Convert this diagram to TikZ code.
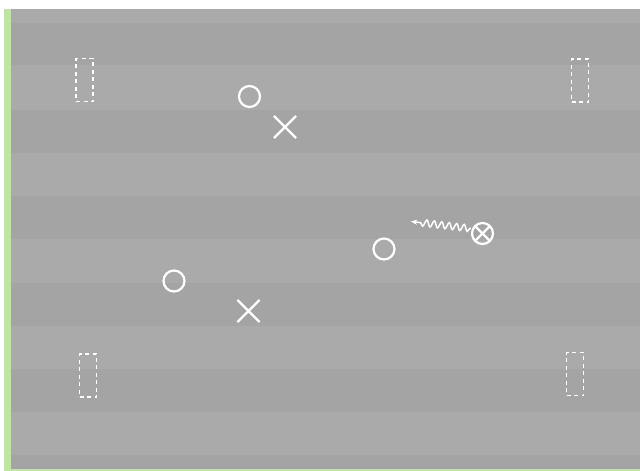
\documentclass[tikz,border=0pt]{standalone}
\usetikzlibrary{decorations.pathmorphing,arrows.meta,shapes.misc}
\definecolor{fieldlight}{RGB}{170,170,170}
\definecolor{fielddark}{RGB}{164,164,164}
\definecolor{edgegreen}{RGB}{190,230,158}
\tikzset{
  mark line/.style={draw=white, line width=2.2pt},
  ring/.style={mark line, circle, minimum size=21pt, inner sep=0pt},
  crossmark/.style={mark line, cross out, minimum size=20pt, inner sep=0pt},
  otimesmark/.style={ring, path picture={
      \draw[white, line width=2.2pt] (path picture bounding box.north west) -- (path picture bounding box.south east);
      \draw[white, line width=2.2pt] (path picture bounding box.north east) -- (path picture bounding box.south west);}},
  zonebox/.style={draw=white, line width=1.3pt, dash pattern=on 4pt off 3.5pt, rectangle, minimum width=17pt, minimum height=43pt, inner sep=0pt},
  wave/.style={draw=white, line width=1.5pt, decorate,
      decoration={snake, segment length=7.5pt, amplitude=3.3pt, pre length=1pt, post length=7pt}},
}
\begin{document}
\begin{tikzpicture}[x=1pt,y=-1pt]
\useasboundingbox (0,0) rectangle (640,471);
\fill[white] (0,0) rectangle (640,471);
% green edges
\fill[edgegreen] (4,9) rectangle (12,471);
\fill[edgegreen] (4,468) rectangle (640,471);
% field with stripes
\fill[fieldlight] (11,9) rectangle (640,468.5);
\foreach \a/\b in {23/65,110/153,196/239,283/326,369/412,455/468.5}
  \fill[fielddark] (11,\a) rectangle (640,\b);
% zones
\node[zonebox] (z1) at (84.5,80) {};
\node[zonebox] (z2) at (580,80.5) {};
\node[zonebox] (z3) at (88,375.5) {};
\node[zonebox] (z4) at (575,374) {};
% marks
\node[ring] (o1) at (249.5,96.5) {};
\node[crossmark] (x1) at (285,127) {};
\node[ring] (o2) at (174,281) {};
\node[crossmark] (x2) at (248.5,311) {};
\node[ring] (o3) at (384,249) {};
\node[otimesmark] (ot) at (482.5,233.5) {};
\coordinate (tip) at (411,221.5);
\draw[wave, -{Stealth[length=6pt,width=5pt]}] (ot.west) ++(0,-5) -- (tip);
\end{tikzpicture}
\end{document}
